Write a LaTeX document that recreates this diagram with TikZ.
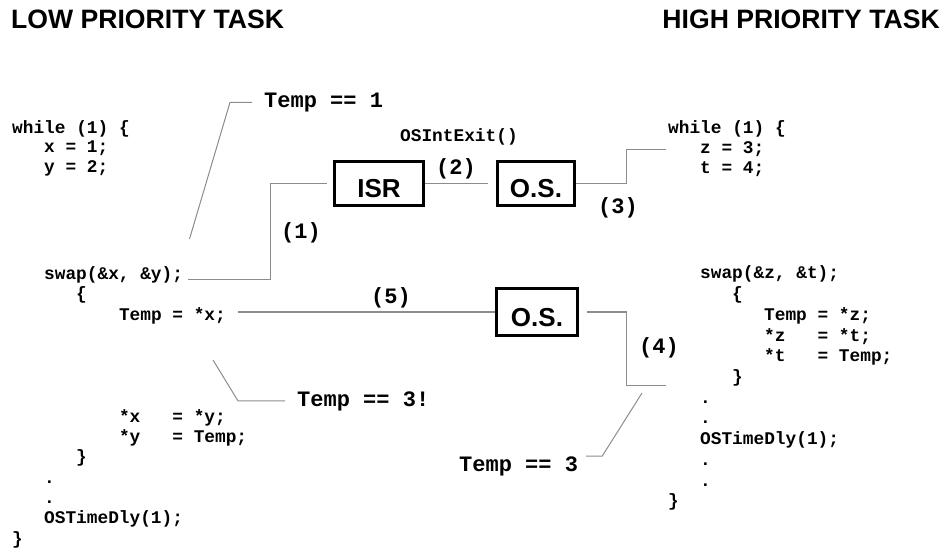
\documentclass[tikz,border=0pt]{standalone}
\usepackage{fontspec}
\setmainfont{Liberation Sans}
\newfontfamily\codefont{Liberation Mono}
\usepackage{tikz}
\usetikzlibrary{positioning,calc}

\tikzset{
    codeline/.style={font=\codefont\bfseries\fontsize{17.8}{20}\selectfont, anchor=base west, inner sep=0pt},
    notelabel/.style={font=\codefont\bfseries\fontsize{22}{24}\selectfont, anchor=base west, inner sep=0pt},
    tasktitle/.style={font=\bfseries\fontsize{26.6}{28}\selectfont, inner sep=0pt},
    taskbox/.style={draw, line width=3pt, font=\bfseries\fontsize{26}{28}\selectfont, text height=29pt, text depth=0pt, inner sep=0pt, minimum width=77pt, minimum height=44pt},
    wire/.style={draw=black!45, line width=1pt}
}

\begin{document}
\begin{tikzpicture}[x=1pt, y=-1pt]
    \useasboundingbox (0,0) rectangle (943,548);

    % Titles
    \node[tasktitle, anchor=base west] (low) at (11,29) {LOW PRIORITY TASK};
    \node[tasktitle, anchor=base east] (high) at (940,29) {HIGH PRIORITY TASK};

    % Low priority task code
    \node[codeline] (lwhile) at (12,133.5) {while (1) \{};
    \node[codeline] (lx) at (44,153) {x = 1;};
    \node[codeline] (ly) at (44,173) {y = 2;};
    \node[codeline] (lswap) at (44,279.5) {swap(\&x, \&y);};
    \node[codeline] (lopen) at (76,299.9) {\{};
    \node[codeline] (ltemp) at (118.8,320.2) {Temp = *x;};
    \node[codeline] (lstarx) at (118.8,422) {*x~~~= *y;};
    \node[codeline] (lstary) at (118.8,442.3) {*y~~~= Temp;};
    \node[codeline] (lclose) at (76,462.7) {\}};
    \foreach \y [count=\i] in {483, 503.4}
        \node[codeline] (ldot\i) at (44,\y) {.};
    \node[codeline] (ldly) at (44,523.7) {OSTimeDly(1);};
    \node[codeline] (lend) at (12,544) {\}};

    % High priority task code
    \node[codeline] (rwhile) at (668,133.5) {while (1) \{};
    \node[codeline] (rz) at (700,154) {z = 3;};
    \node[codeline] (rt) at (700,173.5) {t = 4;};
    \node[codeline] (rswap) at (700,279) {swap(\&z, \&t);};
    \node[codeline] (ropen) at (732,299.7) {\{};
    \node[codeline] (rtemp) at (764,320.4) {Temp = *z;};
    \node[codeline] (rstarz) at (764,341.1) {*z~~~= *t;};
    \node[codeline] (rstart) at (764,361.8) {*t~~~= Temp;};
    \node[codeline] (rclose) at (732,382.5) {\}};
    \foreach \y [count=\i] in {403.2, 423.9}
        \node[codeline] (rdota\i) at (700,\y) {.};
    \node[codeline] (rdly) at (700,444.6) {OSTimeDly(1);};
    \foreach \y [count=\i] in {465.3, 486}
        \node[codeline] (rdotb\i) at (700,\y) {.};
    \node[codeline] (rend) at (668,506.7) {\}};

    % ISR and kernel
    \node[taskbox, minimum width=89pt] (isr) at (379,183.5) {ISR};
    \node[taskbox] (os1) at (536,183.5) {O.S.};
    \node[taskbox, minimum width=81pt, minimum height=47pt] (os2) at (537,312) {O.S.};
    \node[codeline] (osint) at (400,141.7) {OSIntExit()};

    % Step numbers
    \node[notelabel] (n1) at (281,239) {(1)};
    \node[notelabel] (n2) at (436,174.5) {(2)};
    \node[notelabel] (n3) at (598,214) {(3)};
    \node[notelabel] (n4) at (639,353.5) {(4)};
    \node[notelabel] (n5) at (371,303.3) {(5)};

    % Values of Temp
    \node[notelabel] (t1) at (264,107.3) {Temp == 1};
    \node[notelabel] (t3x) at (297,406) {Temp == 3!};
    \node[notelabel] (t3) at (459,471) {Temp == 3};

    % Flow of control
    \draw[wire] ([xshift=5pt]lswap.base east) -| ([xshift=-63pt]isr.west) -- ([xshift=-6pt]isr.west);
    \draw[wire] (isr.east) -- ([xshift=-8pt]os1.west);
    \draw[wire] (os1.east) -| ([xshift=-74pt]rz.west) -- ([xshift=-34pt]rz.west);
    \draw[wire] ([xshift=12pt]ltemp.east |- os2.west) -- (os2.west);
    \coordinate (rgap) at (666,385);
    \draw[wire] ([xshift=8pt]os2.east) -| ([xshift=-40pt]rgap) -- (rgap);

    % Leaders to the Temp values
    \coordinate (tmpa) at (189.5,239);
    \draw[wire] (tmpa) -- ([xshift=-34pt]t1.west) -- ([xshift=-12pt]t1.west);
    \coordinate (tmpb) at (213,360);
    \draw[wire] (tmpb) -- ([xshift=-59pt]t3x.west) -- ([xshift=-12pt]t3x.west);
    \coordinate (tmpc) at (642,393);
    \draw[wire] ([xshift=8pt]t3.north east) -- ([xshift=24pt]t3.north east) -- (tmpc);
\end{tikzpicture}
\end{document}
